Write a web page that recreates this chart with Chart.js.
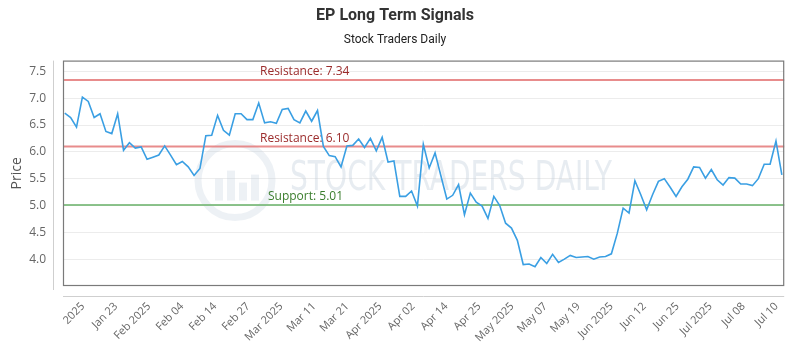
<!DOCTYPE html>
<html>
<head>
<meta charset="utf-8">
<script src="https://cdn.jsdelivr.net/npm/chart.js@4"></script>
<style>
  body { margin: 0; background: #fff; }
  #wrap { width: 800px; height: 350px; }
</style>
</head>
<body>
<div id="wrap"><canvas id="signalChart"></canvas></div>
<script>
// Daily closes (first trading day mid-Jan 2025 to Jul 10)
const prices = [
  6.72, 6.64, 6.46, 7.02, 6.94, 6.64, 6.71, 6.38, 6.34, 6.71,
  6.03, 6.17, 6.07, 6.09, 5.86, 5.90, 5.94, 6.11, 5.94, 5.76,
  5.82, 5.72, 5.56, 5.69, 6.30, 6.31, 6.68, 6.40, 6.31, 6.71,
  6.71, 6.60, 6.60, 6.91, 6.54, 6.56, 6.53, 6.79, 6.81, 6.60,
  6.54, 6.76, 6.57, 6.77, 6.10, 5.93, 5.91, 5.72, 6.11, 6.12,
  6.24, 6.08, 6.25, 6.02, 6.27, 5.81, 5.83, 5.17, 5.17, 5.27,
  4.99, 6.14, 5.70, 5.98, 5.55, 5.12, 5.19, 5.39, 4.83, 5.23,
  5.06, 4.99, 4.76, 5.17, 5.00, 4.67, 4.58, 4.35, 3.90, 3.91,
  3.86, 4.03, 3.92, 4.09, 3.94, 4.00, 4.07, 4.03, 4.04, 4.05,
  4.00, 4.04, 4.05, 4.10, 4.48, 4.95, 4.86, 5.46, 5.20, 4.92,
  5.20, 5.45, 5.50, 5.34, 5.17, 5.35, 5.49, 5.72, 5.71, 5.51,
  5.67, 5.48, 5.38, 5.52, 5.51, 5.40, 5.40, 5.37, 5.50, 5.77,
  5.77, 6.20, 5.57
];

const tickLabels = [
  '2025', 'Jan 23', 'Feb 2025', 'Feb 04', 'Feb 14', 'Feb 27', 'Mar 2025',
  'Mar 11', 'Mar 21', 'Apr 2025', 'Apr 02', 'Apr 14', 'Apr 25', 'May 2025',
  'May 07', 'May 19', 'Jun 2025', 'Jun 12', 'Jun 25', 'Jul 2025', 'Jul 08', 'Jul 10'
];

const yTicks = [4.0, 4.5, 5.0, 5.5, 6.0, 6.5, 7.0, 7.5];

const levels = [
  { label: 'Resistance: 7.34', value: 7.34, line: 'rgba(228,120,120,0.85)', text: '#9b2b2b', dx: 197 },
  { label: 'Resistance: 6.10', value: 6.10, line: 'rgba(228,120,120,0.85)', text: '#9b2b2b', dx: 197 },
  { label: 'Support: 5.01', value: 5.01, line: 'rgba(120,185,120,0.85)', text: '#3a7d2c', dx: 205 }
];

const points = prices.map((p, i) => ({ x: i, y: p }));

// watermark, signal levels, plot frame and offset axis lines
const decor = {
  id: 'decor',
  beforeDatasetsDraw(chart) {
    const { ctx, chartArea: a, scales } = chart;
    ctx.save();
    // watermark
    ctx.strokeStyle = 'rgba(190,205,220,0.28)';
    ctx.lineWidth = 7;
    ctx.beginPath();
    ctx.arc(a.left + 172, a.top + 120, 37, 0, Math.PI * 2);
    ctx.stroke();
    ctx.fillStyle = 'rgba(190,205,220,0.28)';
    [[-20, 22], [-8, 30], [4, 18], [16, 26]].forEach(([bx, h]) => {
      ctx.fillRect(a.left + 172 + bx, a.top + 140 - h, 8, h);
    });
    ctx.font = '40px "DejaVu Sans Condensed", "DejaVu Sans"';
    ctx.textBaseline = 'middle';
    const txt = 'STOCK TRADERS DAILY';
    const w = ctx.measureText(txt).width;
    ctx.translate(a.left + 227, a.top + 119);
    ctx.scale(322 / w, 1);
    ctx.fillStyle = 'rgba(195,208,220,0.40)';
    ctx.fillText(txt, 0, 0);
    ctx.restore();

    ctx.save();
    levels.forEach(l => {
      const y = scales.y.getPixelForValue(l.value);
      ctx.strokeStyle = l.line;
      ctx.lineWidth = 2;
      ctx.beginPath();
      ctx.moveTo(a.left, y);
      ctx.lineTo(a.right, y);
      ctx.stroke();
      ctx.fillStyle = l.text;
      ctx.font = '12px "Open Sans"';
      ctx.textBaseline = 'bottom';
      ctx.fillText(l.label, a.left + l.dx, y - 2);
    });
    ctx.restore();
  },
  afterDraw(chart) {
    const { ctx, chartArea: a } = chart;
    ctx.save();
    ctx.strokeStyle = '#7a7a7a';
    ctx.lineWidth = 1.2;
    ctx.strokeRect(a.left + 0.5, a.top + 0.5, a.width - 1, a.height - 1);
    ctx.strokeStyle = '#cfcfcf';
    ctx.lineWidth = 1;
    ctx.beginPath();
    ctx.moveTo(a.left - 9.5, a.top);
    ctx.lineTo(a.left - 9.5, a.bottom + 4);
    ctx.moveTo(a.left, a.bottom + 10.5);
    ctx.lineTo(a.right, a.bottom + 10.5);
    ctx.stroke();
    ctx.restore();
  }
};

new Chart(document.getElementById('signalChart'), {
  type: 'line',
  data: {
    datasets: [{
      label: 'EP',
      data: points,
      borderColor: '#3a9fe3',
      borderWidth: 1.6,
      pointRadius: 0,
      tension: 0,
      fill: false
    }]
  },
  options: {
    responsive: true,
    maintainAspectRatio: false,
    animation: false,
    layout: { padding: { left: 0, right: 10, top: 0, bottom: 0 } },
    plugins: {
      legend: { display: false },
      tooltip: { enabled: false },
      title: {
        display: true,
        text: 'EP Long Term Signals',
        color: '#333',
        font: { family: 'Roboto', size: 16, weight: 'bold' },
        padding: { top: 6, bottom: 8 }
      },
      subtitle: {
        display: true,
        text: 'Stock Traders Daily',
        color: '#222',
        font: { family: 'Roboto', size: 12 },
        padding: { top: 0, bottom: 13 }
      }
    },
    scales: {
      x: {
        type: 'linear',
        min: -0.3,
        max: 122.4,
        grid: { display: false, drawTicks: false },
        border: { display: false },
        afterBuildTicks(scale) {
          const first = 3.1, last = 121.1;
          const step = (last - first) / (tickLabels.length - 1);
          scale.ticks = tickLabels.map((_, k) => ({ value: first + k * step }));
        },
        afterFit(scale) { scale.height = 64; },
        ticks: {
          autoSkip: false,
          minRotation: 45,
          maxRotation: 45,
          padding: 14,
          color: '#666',
          font: { family: 'Open Sans', size: 11 },
          callback: (v, i) => tickLabels[i]
        }
      },
      y: {
        min: 3.5,
        max: 7.7,
        afterBuildTicks(scale) {
          scale.ticks = yTicks.map(v => ({ value: v }));
        },
        afterFit(scale) { scale.width = 63; },
        grid: { color: '#ececec', drawTicks: false },
        border: { display: false },
        title: {
          display: true,
          text: 'Price',
          color: '#555',
          font: { family: 'Open Sans', size: 14 },
          padding: { top: 9, bottom: 0 }
        },
        ticks: {
          padding: 17,
          color: '#666',
          font: { family: 'Open Sans', size: 12 },
          callback: v => v.toFixed(1)
        }
      }
    }
  },
  plugins: [decor]
});
</script>
</body>
</html>
